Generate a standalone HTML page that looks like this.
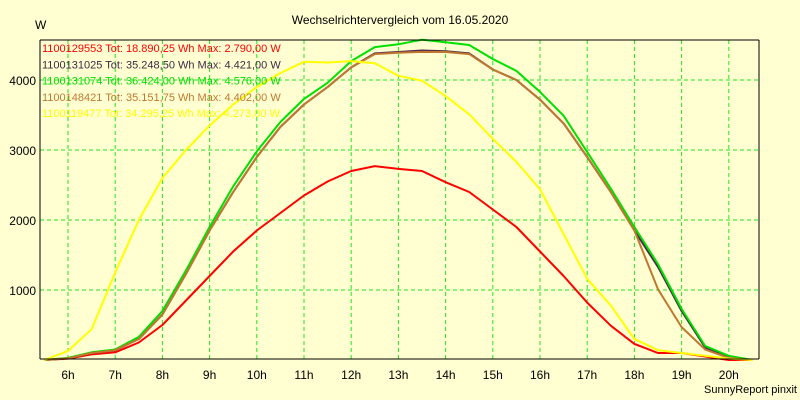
<!DOCTYPE html>
<html><head><meta charset="utf-8"><style>
html,body{margin:0;padding:0;background:#FFFFD2;}
svg{display:block;font-family:"Liberation Sans",sans-serif;}
</style></head><body>
<svg id="chart" width="800" height="400" viewBox="0 0 800 400">
<rect x="0" y="0" width="800" height="400" fill="#FFFFD2"/>
<text x="400" y="24" text-anchor="middle" font-size="12" fill="#000">Wechselrichtervergleich vom 16.05.2020</text>
<text x="35" y="29" font-size="12" fill="#000">W</text>
<text x="797" y="393" text-anchor="end" font-size="11" fill="#000">SunnyReport pinxit</text>
<g id="grid"></g>
<g id="series"></g>
<line x1="40" y1="40" x2="40" y2="359" stroke="#000"/>
<line x1="40" y1="359" x2="759" y2="359" stroke="#000"/>
<line x1="40" y1="40" x2="759" y2="40" stroke="#000"/>
<line x1="759" y1="40" x2="759" y2="359" stroke="#000"/>
<g id="legend"></g>
<g id="labels"></g>
</svg>
<script>
const hours = [5.5,6,6.5,7,7.5,8,8.5,9,9.5,10,10.5,11,11.5,12,12.5,13,13.5,14,14.5,15,15.5,16,16.5,17,17.5,18,18.5,19,19.5,20,20.5];
const red    = [0,20,80,110,250,500,850,1200,1550,1850,2100,2350,2550,2700,2770,2730,2700,2540,2400,2150,1900,1550,1200,820,490,230,100,100,50,0,0];
const purple = [0,25,100,140,300,650,1230,1850,2400,2900,3330,3650,3900,4180,4380,4400,4421,4410,4380,4150,4000,3720,3380,2900,2400,1850,1330,700,180,40,0];
const green  = [0,30,110,150,330,700,1280,1900,2480,2980,3400,3730,3960,4270,4470,4510,4576,4540,4500,4300,4130,3830,3490,2970,2450,1900,1370,730,200,60,0];
const brown  = [0,25,100,140,300,650,1230,1850,2400,2900,3330,3650,3900,4180,4370,4390,4402,4400,4370,4150,4000,3720,3380,2900,2400,1850,1010,470,150,30,0];
const yellow = [0,130,440,1250,2000,2600,3000,3350,3650,3900,4100,4260,4250,4270,4240,4060,3990,3770,3510,3160,2830,2440,1800,1160,780,300,140,100,60,20,0];
const names  = ["1100129553","1100131025","1100131074","1100148421","1100119477"];
const totals = ["18.890,25","35.248,50","36.424,00","35.151,75","34.295,25"];
const maxes  = ["2.790,00","4.421,00","4.576,00","4.402,00","4.273,00"];
const yTicks = [1000,2000,3000,4000];
const xTicks = [6,7,8,9,10,11,12,13,14,15,16,17,18,19,20];

const colors = ["#FF0000","#4B2A4B","#00E000","#C07830","#FFFF00"];
const legendColors = ["#FF0000","#3C2A46","#00E000","#C07830","#FFFF00"];
const NS = "http://www.w3.org/2000/svg";
function xs(h){ return 68 + (h-6)*47.2; }
function ys(v){ return 360 - v*0.07; }

const grid = document.getElementById('grid');
xTicks.forEach(h=>{
  const l=document.createElementNS(NS,'line');
  
  
  l.setAttribute('x1',xs(h));l.setAttribute('x2',xs(h));
  l.setAttribute('y1',40);l.setAttribute('y2',359);
  l.setAttribute('stroke','#22E622');l.setAttribute('stroke-dasharray','4,3');
  grid.appendChild(l);
});
yTicks.forEach(v=>{
  const l=document.createElementNS(NS,'line');
  
  
  l.setAttribute('x1',40);l.setAttribute('x2',759);
  l.setAttribute('y1',ys(v));l.setAttribute('y2',ys(v));
  l.setAttribute('stroke','#22E622');l.setAttribute('stroke-dasharray','4,3');
  grid.appendChild(l);
});

const labels = document.getElementById('labels');
yTicks.forEach(v=>{
  const t=document.createElementNS(NS,'text');
  
  
  t.setAttribute('x',36);t.setAttribute('y',ys(v)+5);
  t.setAttribute('text-anchor','end');t.setAttribute('font-size','12');
  t.textContent=v;
  labels.appendChild(t);
});
xTicks.forEach(h=>{
  const t=document.createElementNS(NS,'text');
  
  
  t.setAttribute('x',xs(h));t.setAttribute('y',379);
  t.setAttribute('text-anchor','middle');t.setAttribute('font-size','12');
  t.textContent=h+'h';
  labels.appendChild(t);
});

const seriesG = document.getElementById('series');
const allSeries = [red,purple,green,brown,yellow];
const seriesNames = ['line-1100129553','line-1100131025','line-1100131074','line-1100148421','line-1100119477'];
allSeries.forEach((s,i)=>{
  const p=document.createElementNS(NS,'polyline');
  
  
  p.setAttribute('points',s.map((v,j)=>xs(hours[j]).toFixed(1)+','+ys(v).toFixed(1)).join(' '));
  p.setAttribute('fill','none');p.setAttribute('stroke',colors[i]);
  p.setAttribute('stroke-width','2');p.setAttribute('stroke-linejoin','round');
  seriesG.appendChild(p);
});

const legend = document.getElementById('legend');
names.forEach((n,i)=>{
  const t=document.createElementNS(NS,'text');
  
  
  t.setAttribute('x',42);t.setAttribute('y',52+i*16.3);
  t.setAttribute('font-size','11');t.setAttribute('fill',legendColors[i]);
  t.textContent=n+' Tot: '+totals[i]+' Wh Max: '+maxes[i]+' W';
  legend.appendChild(t);
});
</script>
</body></html>
